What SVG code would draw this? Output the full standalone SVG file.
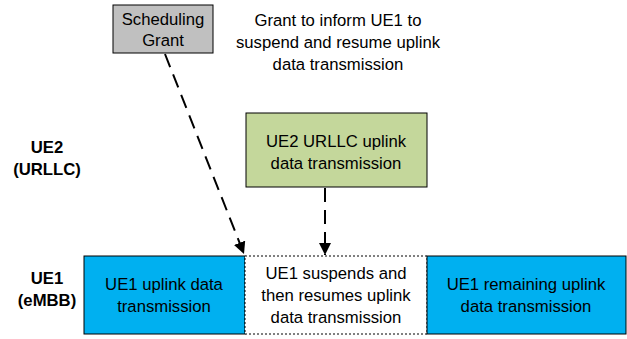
<svg xmlns="http://www.w3.org/2000/svg" width="627" height="339" viewBox="0 0 627 339">
<defs>
<style>
text{font-family:"Liberation Sans",Arial,sans-serif;font-size:16.7px;fill:#000;text-anchor:middle}
.b{font-weight:bold}
.box{stroke:#000;stroke-width:1}
.dash{stroke:#000;stroke-width:2;stroke-dasharray:14,8;fill:none}
</style>
<marker id="ah" viewBox="0 0 10 10" refX="10" refY="5" markerWidth="6" markerHeight="6" orient="auto" markerUnits="strokeWidth">
<path d="M0,0 L10,5 L0,10 z" fill="#000"/>
</marker>
</defs>
<rect width="627" height="339" fill="#fff"/>
<g id="label-ue2"><text class="b" x="47" y="153">UE2</text><text class="b" x="47" y="175">(URLLC)</text></g>
<g id="label-ue1"><text class="b" x="47" y="284">UE1</text><text class="b" x="47" y="306">(eMBB)</text></g>
<g id="grant-note"><text x="338" y="26">Grant to inform UE1 to</text><text x="338" y="48">suspend and resume uplink</text><text x="338" y="70">data transmission</text></g>
<g id="sched"><rect class="box" x="113" y="5" width="100" height="48" fill="#c0c0c0"/><text x="163" y="25">Scheduling</text><text x="163" y="46">Grant</text></g>
<g id="urllc"><rect class="box" x="246" y="113" width="181" height="74" fill="#c4d79b"/><text x="336" y="147">UE2 URLLC uplink</text><text x="336" y="169">data transmission</text></g>
<g id="ue1-tx"><rect class="box" x="84" y="256" width="161" height="78" fill="#00b0f0"/><text x="164" y="290">UE1 uplink data</text><text x="164" y="312">transmission</text></g>
<g id="suspend"><rect x="245" y="256" width="182" height="78" fill="#fff" stroke="#000" stroke-width="1" stroke-dasharray="2,2"/><text x="336" y="279">UE1 suspends and</text><text x="336" y="301">then resumes uplink</text><text x="336" y="323">data transmission</text></g>
<g id="ue1-remain"><rect class="box" x="427" y="256" width="199" height="78" fill="#00b0f0"/><text x="526" y="290">UE1 remaining uplink</text><text x="526" y="312">data transmission</text></g>
<g id="connectors">
<line class="dash" x1="165" y1="54" x2="244" y2="254" marker-end="url(#ah)"/>
<line class="dash" x1="325" y1="188" x2="325" y2="255" marker-end="url(#ah)"/>
</g>
</svg>
